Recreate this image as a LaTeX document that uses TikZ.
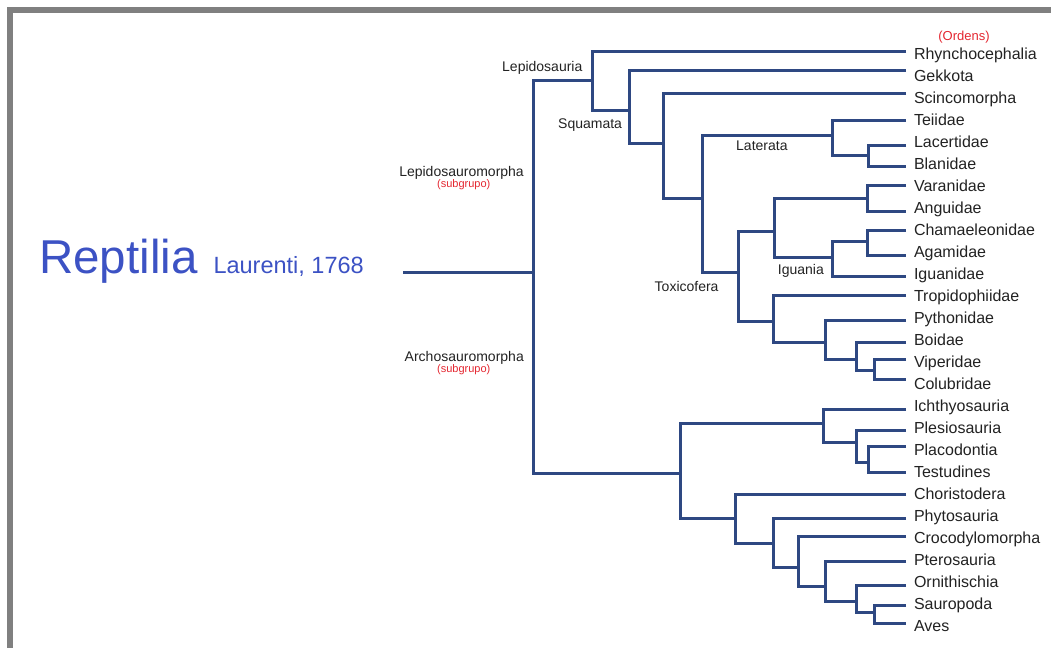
\documentclass[tikz,border=0pt]{standalone}
\usepackage{fontspec}
\setmainfont{Liberation Sans}
\definecolor{branchc}{RGB}{46,72,130}
\definecolor{txtc}{RGB}{34,34,34}
\definecolor{redc}{RGB}{228,38,48}
\definecolor{bluec}{RGB}{60,82,196}
\definecolor{framec}{RGB}{128,128,128}
\begin{document}
\begin{tikzpicture}[x=1pt,y=-1pt,
  branch/.style={draw=branchc,line width=3pt,line join=miter},
  leaf/.style={anchor=base west,inner sep=0pt,text=txtc,font=\fontsize{16}{19}\selectfont},
  clade/.style={anchor=base west,inner sep=0pt,text=txtc,font=\fontsize{14}{17}\selectfont},
  subgr/.style={anchor=base,inner sep=0pt,text=redc,font=\fontsize{11}{13}\selectfont}]
\useasboundingbox (0,0) rectangle (1051,648);
\fill[framec] (7,7) rectangle (1051,13);
\fill[framec] (7,7) rectangle (13,648);

% title
\node[anchor=base west,inner sep=0pt,text=bluec,font=\fontsize{47.5}{50}\selectfont] (rep) at (39,273.3) {Reptilia};
\node[anchor=base west,inner sep=0pt,text=bluec,font=\fontsize{23.5}{26}\selectfont] (lau) at (213.3,273.3) {Laurenti, 1768};

% leaf labels
\node[anchor=base,inner sep=0pt,text=redc,font=\fontsize{13}{15}\selectfont] (ord) at (964,40.7) {(Ordens)};
\node[leaf] (Rhy) at (913.8,59.3) {Rhynchocephalia};
\node[leaf] (Gek) at (913.8,81.3) {Gekkota};
\node[leaf] (Sci) at (913.8,103.3) {Scincomorpha};
\node[leaf] (Tei) at (913.8,125.3) {Teiidae};
\node[leaf] (Lac) at (913.8,147.3) {Lacertidae};
\node[leaf] (Bla) at (913.8,169.3) {Blanidae};
\node[leaf] (Var) at (913.8,191.3) {Varanidae};
\node[leaf] (Ang) at (913.8,213.3) {Anguidae};
\node[leaf] (Cha) at (913.8,235.3) {Chamaeleonidae};
\node[leaf] (Aga) at (913.8,257.3) {Agamidae};
\node[leaf] (Igu) at (913.8,279.3) {Iguanidae};
\node[leaf] (Tro) at (913.8,301.3) {Tropidophiidae};
\node[leaf] (Pyt) at (913.8,323.3) {Pythonidae};
\node[leaf] (Boi) at (913.8,345.3) {Boidae};
\node[leaf] (Vip) at (913.8,367.3) {Viperidae};
\node[leaf] (Col) at (913.8,389.3) {Colubridae};
\node[leaf] (Ich) at (913.8,411.3) {Ichthyosauria};
\node[leaf] (Ple) at (913.8,433.3) {Plesiosauria};
\node[leaf] (Pla) at (913.8,455.3) {Placodontia};
\node[leaf] (Tes) at (913.8,477.3) {Testudines};
\node[leaf] (Cho) at (913.8,499.3) {Choristodera};
\node[leaf] (Phy) at (913.8,521.3) {Phytosauria};
\node[leaf] (Cro) at (913.8,543.3) {Crocodylomorpha};
\node[leaf] (Pte) at (913.8,565.3) {Pterosauria};
\node[leaf] (Orn) at (913.8,587.3) {Ornithischia};
\node[leaf] (Sau) at (913.8,609.3) {Sauropoda};
\node[leaf] (Ave) at (913.8,631.3) {Aves};

% clade labels
\node[clade] (lLep) at (502,71) {Lepidosauria};
\node[clade] (lSqu) at (558,128.3) {Squamata};
\node[clade] (lLat) at (736,150) {Laterata};
\node[clade] (lIgu) at (777.7,274.3) {Iguania};
\node[clade] (lTox) at (654.5,291.7) {Toxicofera};
\node[clade,anchor=base east] (lLsm) at (524,176.7) {Lepidosauromorpha};
\node[subgr] (sLsm) at (463.7,187.7) {(subgrupo)};
\node[clade,anchor=base east] (lAsm) at (524,361) {Archosauromorpha};
\node[subgr] (sAsm) at (463.7,372.3) {(subgrupo)};

% leaf line ends
\coordinate (cRhy) at (906,51.7);
\coordinate (cGek) at (906,70);
\coordinate (cSci) at (906,93.3);
\coordinate (cTei) at (906,120);
\coordinate (cLac) at (906,145);
\coordinate (cBla) at (906,166.7);
\coordinate (cVar) at (906,185.7);
\coordinate (cAng) at (906,211.7);
\coordinate (cCha) at (906,230);
\coordinate (cAga) at (906,255);
\coordinate (cIgu) at (906,276);
\coordinate (cTro) at (906,295);
\coordinate (cPyt) at (906,320);
\coordinate (cBoi) at (906,342.7);
\coordinate (cVip) at (906,359.3);
\coordinate (cCol) at (906,379.3);
\coordinate (cIch) at (906,409.3);
\coordinate (cPle) at (906,430.7);
\coordinate (cPla) at (906,446.7);
\coordinate (cTes) at (906,472.7);
\coordinate (cCho) at (906,494);
\coordinate (cPhy) at (906,518.3);
\coordinate (cCro) at (906,536.7);
\coordinate (cPte) at (906,561.7);
\coordinate (cOrn) at (906,585);
\coordinate (cSau) at (906,605);
\coordinate (cAve) at (906,623.3);

% internal nodes (x of vertical, y of stem)
\coordinate (rootstart) at (403,272);
\coordinate (nRoot) at (533,272);
\coordinate (nLep) at (592,80);
\coordinate (nSqu) at (629,110);
\coordinate (nA) at (663.5,143.3);
\coordinate (nB) at (702,198.3);
\coordinate (nLat) at (832,135);
\coordinate (nLac) at (868,155);
\coordinate (nTox) at (738,272);
\coordinate (nC) at (774,231.7);
\coordinate (nVar) at (867.5,198.3);
\coordinate (nIgu) at (832,257.3);
\coordinate (nCha) at (867.5,241);
\coordinate (nSer) at (773,321.7);
\coordinate (nPy) at (825,342.7);
\coordinate (nBoi) at (856,359.3);
\coordinate (nVip) at (874,370.7);
\coordinate (nArc) at (680,473.3);
\coordinate (nD) at (823,423.3);
\coordinate (nE) at (856,442.7);
\coordinate (nF) at (868,462.7);
\coordinate (nG) at (735,518.3);
\coordinate (nH) at (773,543.3);
\coordinate (nI) at (798,567.3);
\coordinate (nJ) at (825,586.7);
\coordinate (nK) at (856.7,601.7);
\coordinate (nL) at (874,612.7);

% branches
\draw[branch] (rootstart) -- (nRoot);
\draw[branch] (nLep) -| (nRoot) |- (nArc);
\draw[branch] (cRhy) -| (nLep) |- (nSqu);
\draw[branch] (cGek) -| (nSqu) |- (nA);
\draw[branch] (cSci) -| (nA) |- (nB);
\draw[branch] (nLat) -| (nB) |- (nTox);
\draw[branch] (cTei) -| (nLat) |- (nLac);
\draw[branch] (cLac) -| (nLac) |- (cBla);
\draw[branch] (nC) -| (nTox) |- (nSer);
\draw[branch] (nVar) -| (nC) |- (nIgu);
\draw[branch] (cVar) -| (nVar) |- (cAng);
\draw[branch] (nCha) -| (nIgu) |- (cIgu);
\draw[branch] (cCha) -| (nCha) |- (cAga);
\draw[branch] (cTro) -| (nSer) |- (nPy);
\draw[branch] (cPyt) -| (nPy) |- (nBoi);
\draw[branch] (cBoi) -| (nBoi) |- (nVip);
\draw[branch] (cVip) -| (nVip) |- (cCol);
\draw[branch] (nD) -| (nArc) |- (nG);
\draw[branch] (cIch) -| (nD) |- (nE);
\draw[branch] (cPle) -| (nE) |- (nF);
\draw[branch] (cPla) -| (nF) |- (cTes);
\draw[branch] (cCho) -| (nG) |- (nH);
\draw[branch] (cPhy) -| (nH) |- (nI);
\draw[branch] (cCro) -| (nI) |- (nJ);
\draw[branch] (cPte) -| (nJ) |- (nK);
\draw[branch] (cOrn) -| (nK) |- (nL);
\draw[branch] (cSau) -| (nL) |- (cAve);
\end{tikzpicture}
\end{document}
